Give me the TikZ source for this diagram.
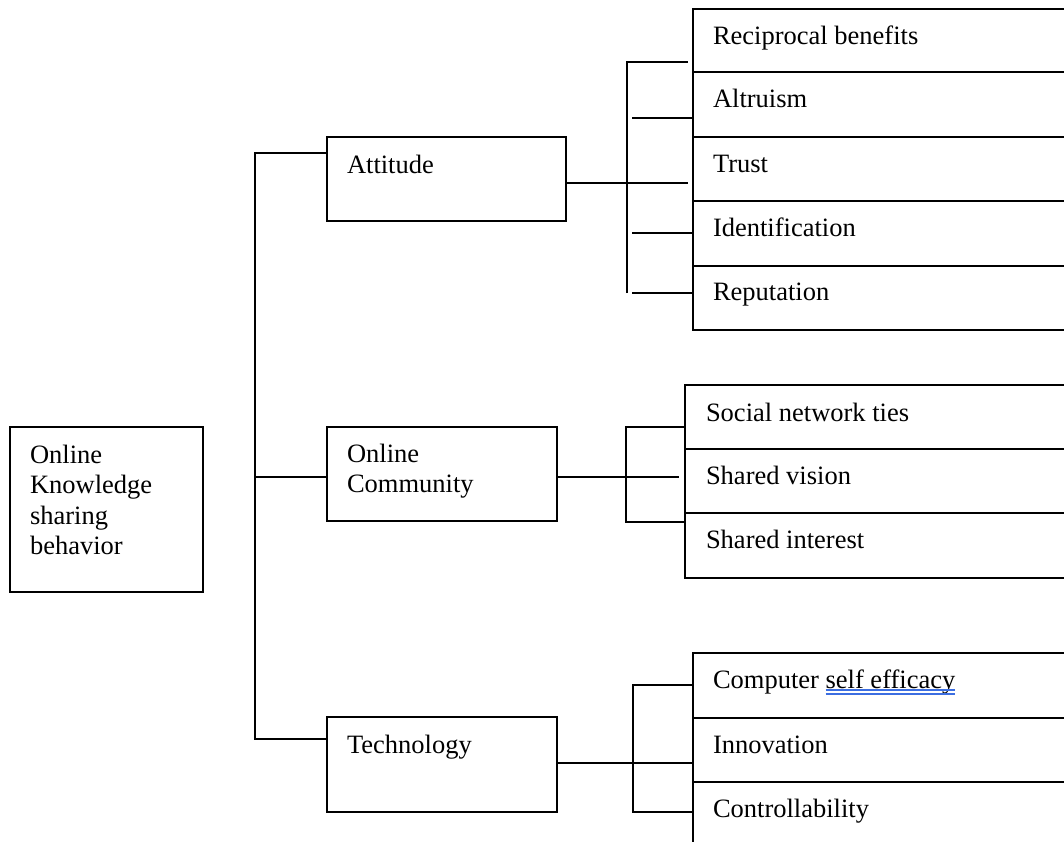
\documentclass[tikz,border=0pt]{standalone}
\usepackage{fontspec}
\setmainfont{Liberation Serif}
\usetikzlibrary{calc}
\definecolor{spellblue}{RGB}{60,110,225}
\begin{document}
\begin{tikzpicture}[x=1pt,y=-1pt,
  every node/.style={inner sep=0pt, outer sep=0pt},
  frame/.style={draw, line width=1.7pt, anchor=north west},
  lbl/.style={anchor=base west, font=\fontsize{26.5}{30.5}\selectfont},
  wire/.style={line width=1.6pt},
  spellmark/.style={draw=spellblue, line width=1.4pt}]
\clip (0,0) rectangle (1064,841);
\fill[white] (0,0) rectangle (1064,841);

% root
\node[frame, minimum width=193pt, minimum height=165pt] (kb) at (10,427) {};
\node[lbl] (kbt) at ($(kb.north west)+(20,36)$)
  {\begin{tabular}[t]{@{}l@{}}Online\\Knowledge\\sharing\\behavior\end{tabular}};

% second level
\node[frame, minimum width=239pt, minimum height=84pt] (att) at (327,137) {};
\node[lbl] (attt) at ($(att.north west)+(20,36)$) {Attitude};
\node[frame, minimum width=230pt, minimum height=94pt] (com) at (327,427) {};
\node[lbl] (comt) at ($(com.north west)+(20,35)$)
  {\begin{tabular}[t]{@{}l@{}}Online\\Community\end{tabular}};
\node[frame, minimum width=230pt, minimum height=95pt] (tech) at (327,717) {};
\node[lbl] (techt) at ($(tech.north west)+(20,36)$) {Technology};

% attitude factors
\node[frame, minimum width=400pt, minimum height=63pt] (a1) at (693,9) {};
\node[frame, minimum width=400pt, minimum height=65pt] (a2) at (693,72) {};
\node[frame, minimum width=400pt, minimum height=64pt] (a3) at (693,137) {};
\node[frame, minimum width=400pt, minimum height=65pt] (a4) at (693,201) {};
\node[frame, minimum width=400pt, minimum height=64pt] (a5) at (693,266) {};
\node[lbl] (a1t) at ($(a1.north west)+(20,35.5)$) {Reciprocal benefits};
\node[lbl] (a2t) at ($(a2.north west)+(20,35.5)$) {Altruism};
\node[lbl] (a3t) at ($(a3.north west)+(20,35.5)$) {Trust};
\node[lbl] (a4t) at ($(a4.north west)+(20,35.5)$) {Identification};
\node[lbl] (a5t) at ($(a5.north west)+(20,34.5)$) {Reputation};

% community factors
\node[frame, minimum width=400pt, minimum height=64pt] (b1) at (685,385) {};
\node[frame, minimum width=400pt, minimum height=64pt] (b2) at (685,449) {};
\node[frame, minimum width=400pt, minimum height=65pt] (b3) at (685,513) {};
\node[lbl] (b1t) at ($(b1.north west)+(21,36)$) {Social network ties};
\node[lbl] (b2t) at ($(b2.north west)+(21,35.5)$) {Shared vision};
\node[lbl] (b3t) at ($(b3.north west)+(21,35.5)$) {Shared interest};

% technology factors
\node[frame, minimum width=400pt, minimum height=65pt] (c1) at (693,653) {};
\node[frame, minimum width=400pt, minimum height=64pt] (c2) at (693,718) {};
\node[frame, minimum width=400pt, minimum height=66pt] (c3) at (693,782) {};
\node[lbl] (c1t) at ($(c1.north west)+(20,35)$) {Computer};
\node[lbl] (c1u) at ($(c1t.base east)+(6.6,0)$) {self efficacy};
\node[lbl] (c2t) at ($(c2.north west)+(20,35.5)$) {Innovation};
\node[lbl] (c3t) at ($(c3.north west)+(20,35.5)$) {Controllability};

% double spelling underline
\draw[spellmark] ($(c1u.base west)+(0,2)$) -- ($(c1u.base east)+(0,2)$);
\draw[spellmark] ($(c1u.base west)+(0,5.8)$) -- ($(c1u.base east)+(0,5.8)$);

% trunk from the three groups
\coordinate (trTop) at (255,153);
\coordinate (trBot) at (255,739);
\coordinate (comIn) at ($(com.north west)+(0,50)$);
\draw[wire] (att.west |- trTop) -- (trTop) -- (trBot) -- (tech.west |- trBot);
\draw[wire] (comIn) -- (comIn -| trTop);

% attitude bracket
\coordinate (attOut) at ($(att.north east)+(0,46)$);
\coordinate (aTop) at (627,62);
\coordinate (aBot) at (627,293);
\coordinate (sA2) at (632,118);
\coordinate (sA4) at (632,233);
\coordinate (sA5) at (632,293);
\draw[wire] (attOut) -- ($(attOut -| a3.west)+(-5,0)$);
\draw[wire] (aBot) -- (aTop) -- ($(aTop -| a1.west)+(-5,0)$);
\draw[wire] (sA2) -- (sA2 -| a2.west);
\draw[wire] (sA4) -- (sA4 -| a4.west);
\draw[wire] (sA5) -- (sA5 -| a5.west);

% community bracket
\coordinate (comOut) at ($(com.north east)+(0,50)$);
\coordinate (bTop) at (626,427);
\coordinate (bBot) at (626,522);
\draw[wire] (comOut) -- ($(comOut -| b2.west)+(-6,0)$);
\draw[wire] (bTop -| b1.west) -- (bTop) -- (bBot) -- (bBot -| b3.west);

% technology bracket
\coordinate (techOut) at ($(tech.north east)+(0,46)$);
\coordinate (cTop) at (633,685);
\coordinate (cBot) at (633,812);
\draw[wire] (techOut) -- (techOut -| c2.west);
\draw[wire] (cTop -| c1.west) -- (cTop) -- (cBot) -- (cBot -| c3.west);
\end{tikzpicture}
\end{document}
